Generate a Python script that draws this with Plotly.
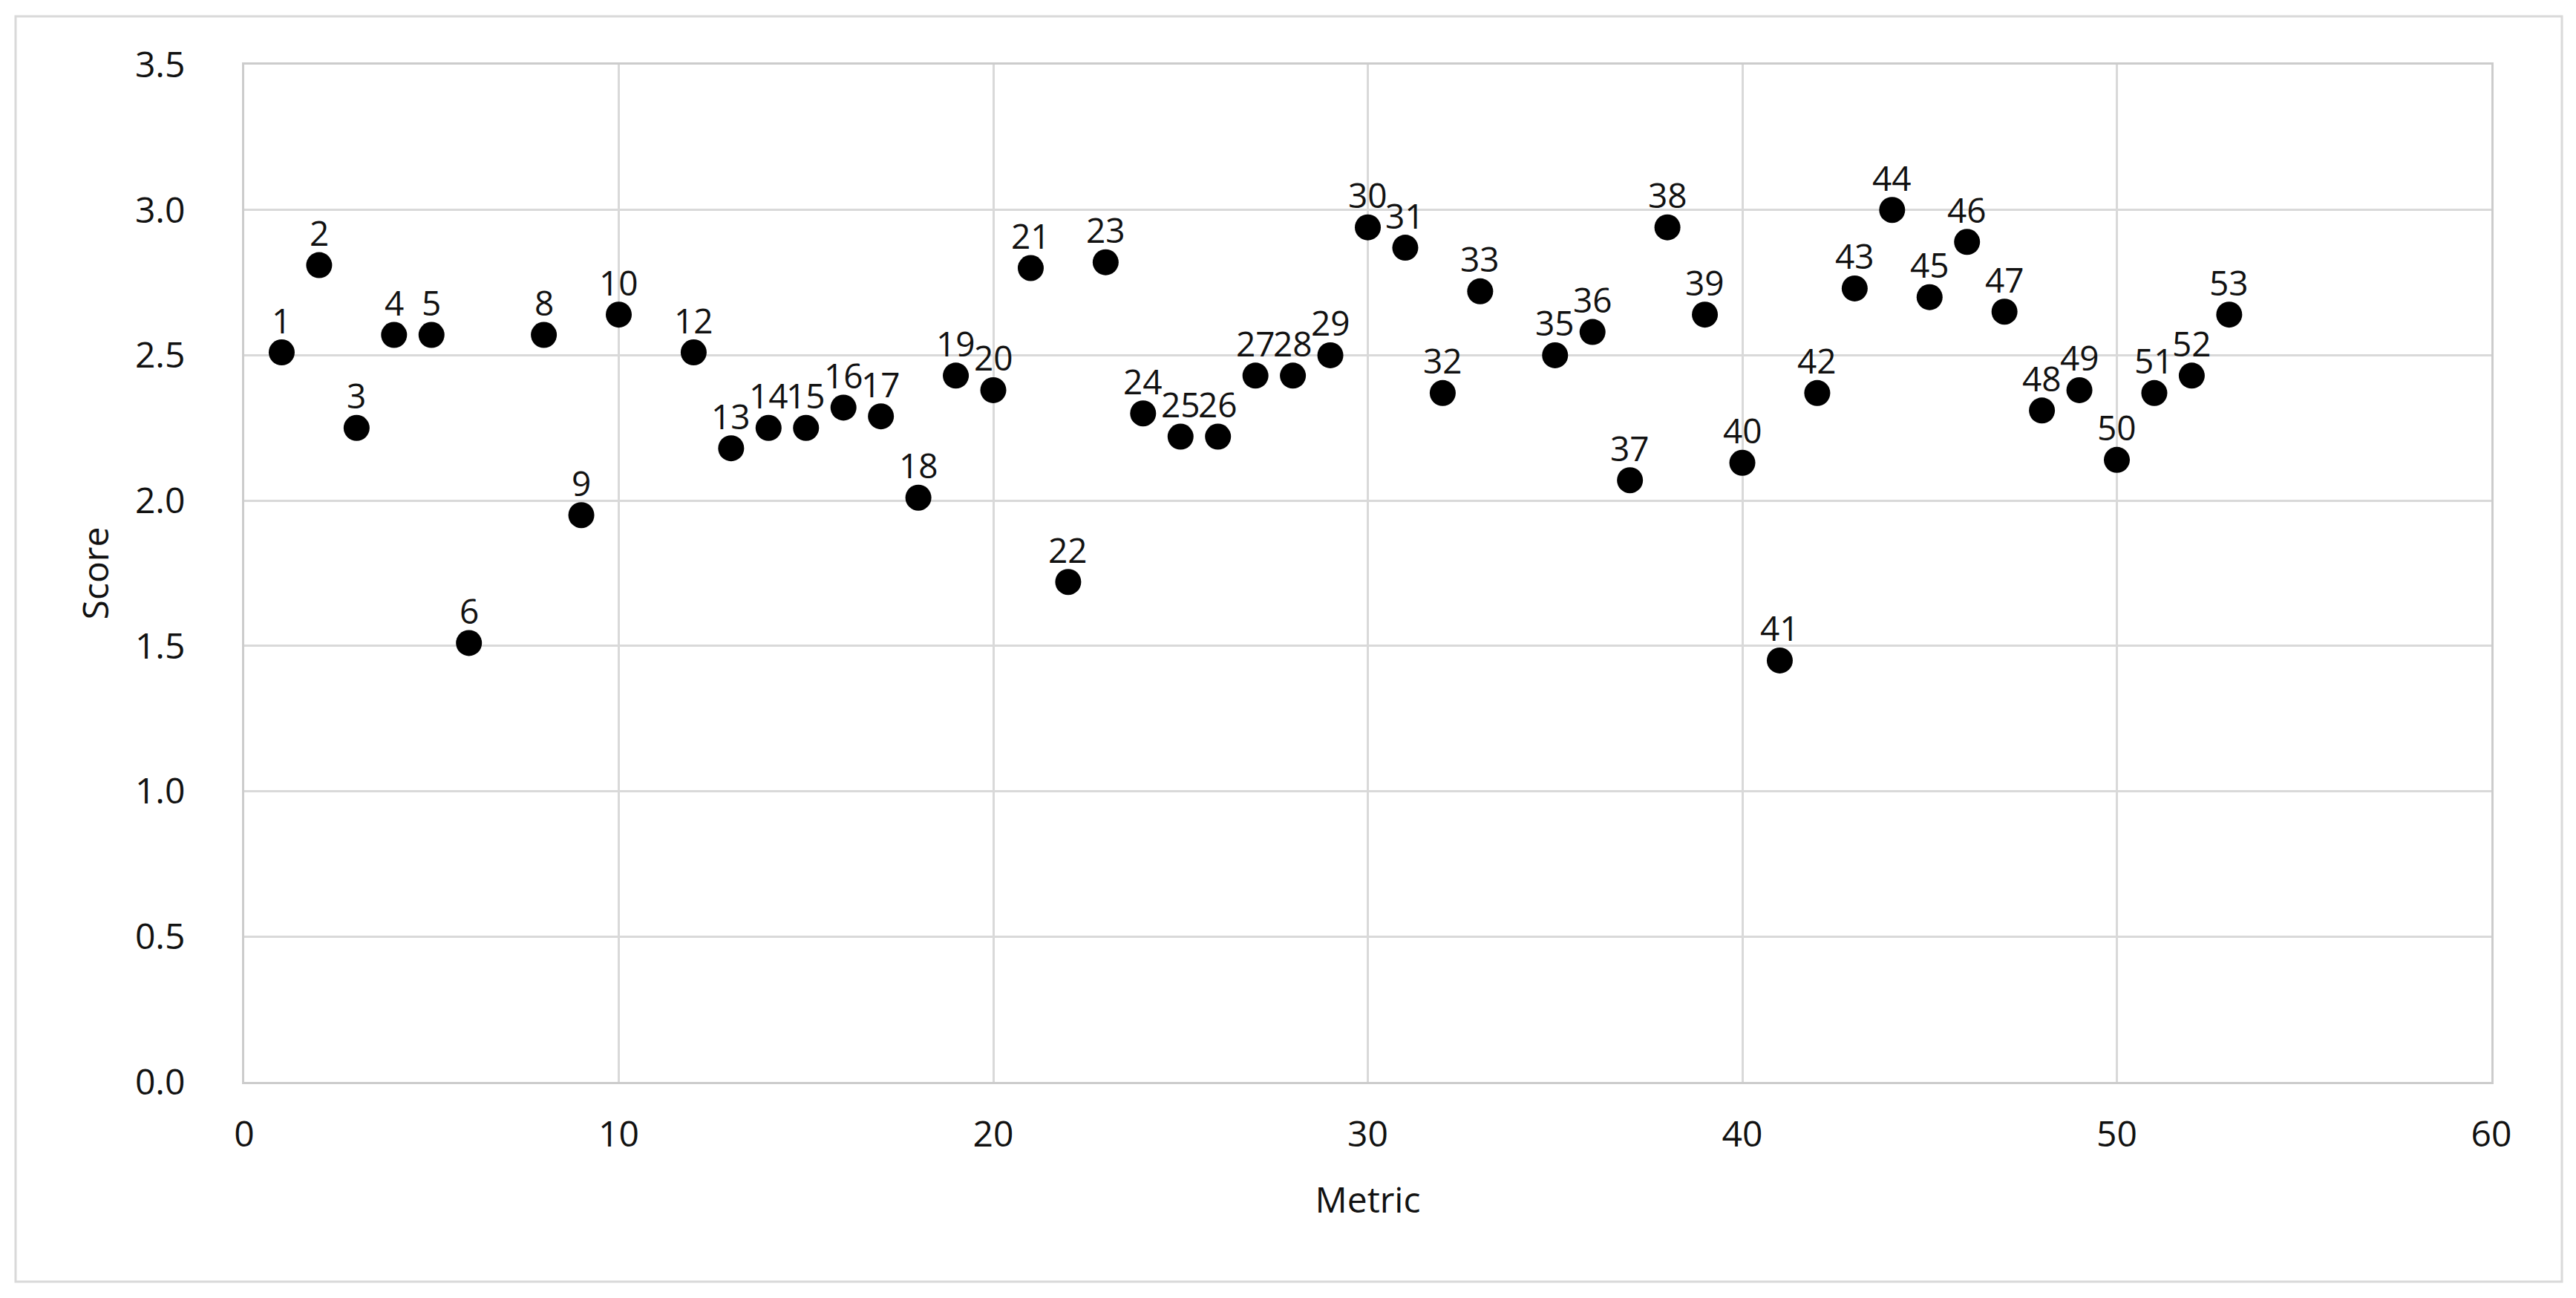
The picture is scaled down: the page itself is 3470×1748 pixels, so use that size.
import plotly.graph_objects as go

# Data
metric = [1, 2, 3, 4, 5, 6, 8, 9, 10, 12, 13, 14, 15, 16, 17, 18, 19, 20,
          21, 22, 23, 24, 25, 26, 27, 28, 29, 30, 31, 32, 33, 35, 36, 37,
          38, 39, 40, 41, 42, 43, 44, 45, 46, 47, 48, 49, 50, 51, 52, 53]
score = [2.51, 2.81, 2.25, 2.57, 2.57, 1.51, 2.57, 1.95, 2.64, 2.51, 2.18,
         2.25, 2.25, 2.32, 2.29, 2.01, 2.43, 2.38, 2.80, 1.72, 2.82, 2.30,
         2.22, 2.22, 2.43, 2.43, 2.50, 2.94, 2.87, 2.37, 2.72, 2.50, 2.58,
         2.07, 2.94, 2.64, 2.13, 1.45, 2.37, 2.73, 3.00, 2.70, 2.89, 2.65,
         2.31, 2.38, 2.14, 2.37, 2.43, 2.64]
point_labels = [str(m) for m in metric]

x_ticks = [0, 10, 20, 30, 40, 50, 60]
y_ticks = [0.0, 0.5, 1.0, 1.5, 2.0, 2.5, 3.0, 3.5]

W, H = 3470, 1748
OFF = 8  # default body margin of the html page
L, R, T, B = 329 - OFF, 114 + OFF, 87 - OFF, 291 + OFF
pw, ph = W - L - R, H - T - B

FONT = "Open Sans"
TXT = "#111111"

fig = go.Figure()
fig.add_trace(go.Scatter(
    x=metric, y=score, mode="markers",
    marker=dict(size=35, color="#000000"),
    cliponaxis=False, hoverinfo="skip",
))

for xv, yv, lab in zip(metric, score, point_labels):
    fig.add_annotation(
        x=xv, y=yv, text=lab, showarrow=False,
        xanchor="center", yanchor="middle", yshift=44,
        font=dict(family=FONT, size=46, color=TXT),
    )

axis_common = dict(
    showgrid=True, gridcolor="#d9d9d9", gridwidth=2.5,
    showline=True, linecolor="#cccccc", linewidth=3, mirror=True,
    zeroline=False, ticks="",
    tickfont=dict(family=FONT, size=48, color=TXT),
)

fig.update_layout(
    width=W, height=H,
    margin=dict(l=L, r=R, t=T, b=B, autoexpand=False),
    paper_bgcolor="white", plot_bgcolor="white",
    showlegend=False,
    xaxis=dict(
        range=[0, 60], tickmode="array", tickvals=x_ticks,
        ticktext=[str(v) for v in x_ticks],
        ticklabelstandoff=26,
        title=dict(text="Metric", font=dict(family=FONT, size=48, color=TXT),
                   standoff=43),
        **axis_common,
    ),
    yaxis=dict(
        range=[0, 3.5], tickmode="array", tickvals=y_ticks,
        ticktext=[f"{v:.1f}" for v in y_ticks],
        ticklabelstandoff=67,
        title=dict(text="Score", font=dict(family=FONT, size=48, color=TXT),
                   standoff=21),
        **axis_common,
    ),
)

# Outer chart border
bx0, bx1, by0, by1 = 21 - OFF, 3451 - OFF, 22 - OFF, 1726 - OFF
fig.add_shape(
    type="rect", xref="paper", yref="paper",
    x0=(bx0 - L) / pw, x1=(bx1 - L) / pw,
    y0=(H - B - by1) / ph, y1=(H - B - by0) / ph,
    line=dict(color="#d9d9d9", width=3), fillcolor="rgba(0,0,0,0)",
    layer="below",
)

fig.write_html("out.html")
